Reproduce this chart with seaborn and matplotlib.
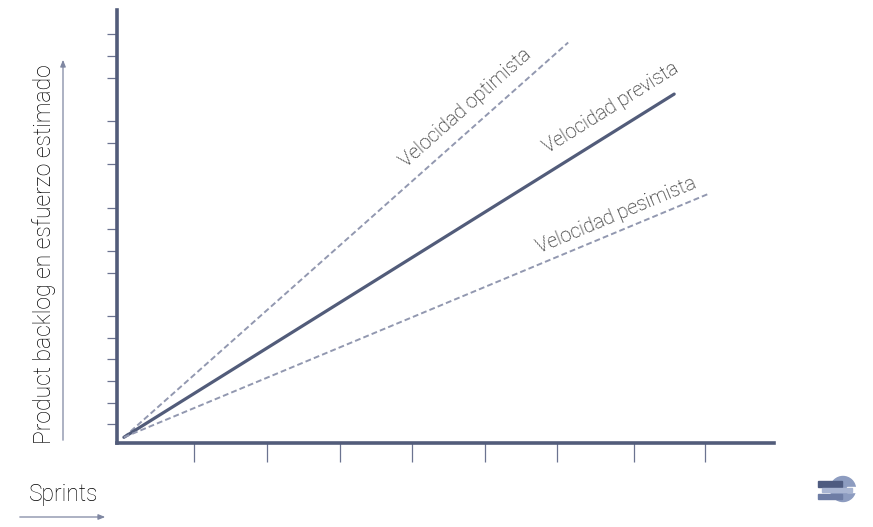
import numpy as np
import pandas as pd
import matplotlib.pyplot as plt
import matplotlib.patches as mpatches
import seaborn as sns

# Sprint axis (one unit per sprint) and effort axis (one unit per tick)
sprint_ticks = [1, 2, 3, 4, 5, 6, 7.05, 8.04]
effort_ticks = [1, 2, 3, 4, 5, 6, 8, 9, 10, 11, 13, 14, 15, 17, 18, 19]

# Velocity lines: start and end points (sprint, effort)
series = ['Velocidad optimista', 'Velocidad prevista', 'Velocidad pesimista']
x_start = [0.03, 0.03, 0.03]
y_start = [0.4, 0.4, 0.4]
x_end = [6.15, 7.61, 8.10]
y_end = [18.62, 16.24, 11.66]

# label centre positions (sprint, effort)
label_x = [4.74, 6.74, 6.82]
label_y = [15.62, 15.62, 10.64]

df = pd.DataFrame({
    'serie': np.repeat(series, 2),
    'sprint': [v for pair in zip(x_start, x_end) for v in pair],
    'esfuerzo': [v for pair in zip(y_start, y_end) for v in pair],
})

sns.set_theme(style='white')
plt.rcParams['font.family'] = ['Roboto', 'DejaVu Sans']

axis_col = '#525c7a'
dash_col = '#9298b0'
text_col = '#000000'

fig = plt.figure(figsize=(8.73, 5.27), dpi=100)
ax = fig.add_axes([117 / 873, 1 - 443 / 527, (774 - 117) / 873, (443 - 10) / 527])

palette = {series[0]: dash_col, series[1]: axis_col, series[2]: dash_col}
sns.lineplot(data=df, x='sprint', y='esfuerzo', hue='serie', style='serie',
             palette=palette, dashes={series[0]: (3, 1.6), series[1]: '', series[2]: (3, 1.6)},
             size='serie', sizes={series[0]: 1.4, series[1]: 2.3, series[2]: 1.4},
             legend=False, ax=ax, estimator=None, sort=False)

ax.set_xlim(-0.065, 8.985)
ax.set_ylim(0.137, 20.12)
ax.set_xticks(sprint_ticks)
ax.set_yticks(effort_ticks)
ax.tick_params(axis='x', direction='out', length=13.5, width=0.9, color='#6b7390',
               labelbottom=False, bottom=True)
ax.tick_params(axis='y', direction='out', length=7, width=0.9, color='#6b7390',
               labelleft=False, left=True)
ax.set_xlabel('')
ax.set_ylabel('')
for side in ['top', 'right']:
    ax.spines[side].set_visible(False)
for side in ['left', 'bottom']:
    ax.spines[side].set_color(axis_col)
    ax.spines[side].set_linewidth(2.6)
    ax.spines[side].set_capstyle('projecting')

# rotated labels along each line
for i, name in enumerate(series):
    p0 = ax.transData.transform((x_start[i], y_start[i]))
    p1 = ax.transData.transform((x_end[i], y_end[i]))
    ang = np.degrees(np.arctan2(p1[1] - p0[1], p1[0] - p0[0]))
    ax.text(label_x[i], label_y[i], name, rotation=ang, rotation_mode='anchor',
            ha='center', va='center', fontsize=14.3, color=text_col, fontweight='light')

# axis titles with arrows
fig.text(44 / 873, 1 - 254 / 527, 'Product backlog en esfuerzo estimado', rotation=90,
         ha='center', va='center', fontsize=16.6, color=text_col, fontweight='light')
fig.text(64 / 873, 1 - 495 / 527, 'Sprints', ha='center', va='center',
         fontsize=16.4, color=text_col, fontweight='light')
arrow_kw = dict(arrowstyle='-|>,head_length=4,head_width=1.6', color='#7f87a2', lw=0.9,
                mutation_scale=1)
fig.add_artist(mpatches.FancyArrowPatch((63 / 873, 1 - 443 / 527), (63 / 873, 1 - 57 / 527),
                                        transform=fig.transFigure, **arrow_kw))
fig.add_artist(mpatches.FancyArrowPatch((17 / 873, 1 - 517 / 527), (108 / 873, 1 - 517 / 527),
                                        transform=fig.transFigure, **arrow_kw))

# small logo in the bottom right corner
lax = fig.add_axes([816 / 873, 1 - 506 / 527, 42 / 873, 34 / 527])
lax.set_xlim(0, 42)
lax.set_ylim(0, 34)
lax.axis('off')
lax.add_patch(mpatches.Circle((27, 17), 12.5, color='#8d9cc0'))
lax.add_patch(mpatches.Rectangle((31, 14.5), 12, 5, color='white'))
lax.add_patch(mpatches.Rectangle((2, 19.5), 24, 6, color='#4e5b80'))
lax.add_patch(mpatches.Rectangle((6, 14), 30, 4, color='#a9b5d2'))
lax.add_patch(mpatches.Rectangle((2, 7), 24, 5.5, color='#6e7da5'))

fig.savefig('out.png', dpi=100)
